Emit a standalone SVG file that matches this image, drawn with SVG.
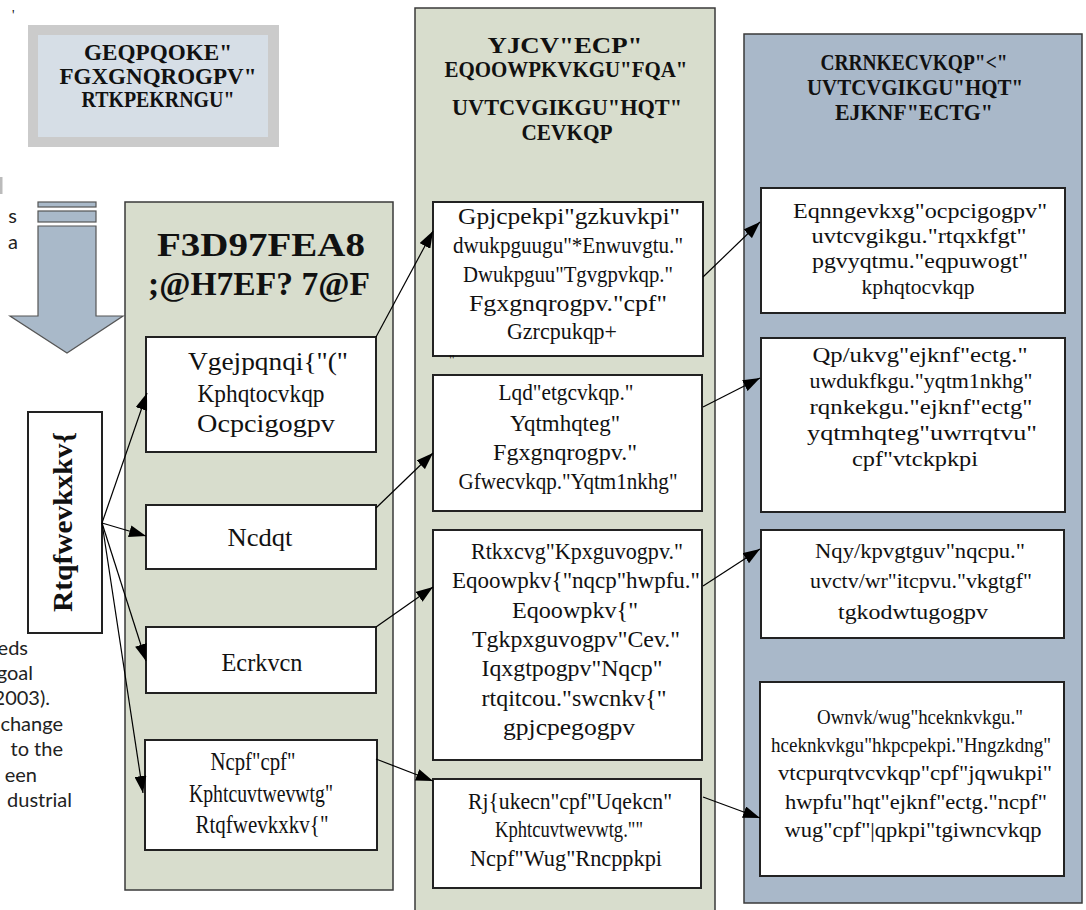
<svg xmlns="http://www.w3.org/2000/svg" width="1086" height="910" viewBox="0 0 1086 910">
<defs>
<marker id="ah" markerUnits="userSpaceOnUse" markerWidth="17" markerHeight="12" refX="17" refY="6" orient="auto">
<path d="M0,0 L17,6 L0,12 z" fill="#000"/>
</marker>
<style>
.colg{fill:#d8ddcd;stroke:#3a3a3a;stroke-width:1.5}
.colb{fill:#a9b8c9;stroke:#3a3a3a;stroke-width:1.5}
.box{fill:#fff;stroke:#222;stroke-width:2}
.t{font-family:"Liberation Serif","Times New Roman",serif;text-anchor:middle;fill:#111}
.b{font-size:24px}
.l{font-size:26px}
.r{font-size:22px}
.h{font-weight:bold;font-size:23px}
.side{font-family:Lato,"Noto Sans",sans-serif;font-size:20px;fill:#222;text-anchor:end}
.q{font-family:"Liberation Serif",serif;font-size:14px;fill:#111}
.conn line{stroke:#000;stroke-width:1.2;fill:none;marker-end:url(#ah)}
</style>
</defs>
<rect width="1086" height="910" fill="#fff"/>

<g id="side-text">
<text class="q" x="12" y="20">'</text>
<rect x="0" y="177" width="2.5" height="17" fill="#bbb"/>
<text class="side" x="17" y="223">s</text>
<text class="side" x="18" y="249">a</text>
<text class="side" x="28" y="655">eds</text>
<text class="side" x="33" y="680">goal</text>
<text class="side" x="50" y="705">2003).</text>
<text class="side" x="63" y="731">change</text>
<text class="side" x="63" y="756">to the</text>
<text class="side" x="37" y="782">een</text>
<text class="side" x="72" y="807">dustrial</text>
</g>

<g id="principles">
<rect x="28" y="25" width="251" height="122" fill="#cbcbcb"/>
<rect x="38" y="35" width="230" height="102" fill="#d6dee6"/>
<text class="t h" x="158" y="60" textLength="148" lengthAdjust="spacingAndGlyphs">GEQPQOKE"</text>
<text class="t h" x="158" y="84" textLength="197" lengthAdjust="spacingAndGlyphs">FGXGNQROGPV"</text>
<text class="t h" x="158" y="107" textLength="153" lengthAdjust="spacingAndGlyphs">RTKPEKRNGU"</text>
</g>

<g id="down-arrow">
<rect x="38" y="202" width="58" height="5" fill="#a9b9c9" stroke="#555" stroke-width="1.2"/>
<rect x="38" y="211" width="58" height="11" fill="#a9b9c9" stroke="#555" stroke-width="1.2"/>
<polygon points="38,226 96,226 96,316 123,316 67,353 10,316 38,316" fill="#a9b9c9" stroke="#555" stroke-width="1.2"/>
</g>

<g id="col-investment">
<rect class="colg" x="125" y="202" width="268" height="688"/>
<text class="t" x="261" y="256" font-weight="bold" font-size="33" textLength="208" lengthAdjust="spacingAndGlyphs">F3D97FEA8</text>
<text class="t" x="259" y="295" font-weight="bold" font-size="33" textLength="222" lengthAdjust="spacingAndGlyphs">;@H7EF? 7@F</text>
</g>

<g id="col-strategies">
<rect class="colg" x="415" y="8" width="300" height="910"/>
<text class="t h" x="565" y="53" textLength="155" lengthAdjust="spacingAndGlyphs">YJCV"ECP"</text>
<text class="t h" x="566" y="77" textLength="243" lengthAdjust="spacingAndGlyphs">EQOOWPKVKGU"FQA"</text>
<text class="t h" x="567" y="115" textLength="230" lengthAdjust="spacingAndGlyphs">UVTCVGIKGU"HQT"</text>
<text class="t h" x="567" y="140" textLength="91" lengthAdjust="spacingAndGlyphs">CEVKQP</text>
</g>

<g id="col-application">
<rect class="colb" x="744" y="34" width="338" height="869"/>
<text class="t h" x="914" y="70" textLength="187" lengthAdjust="spacingAndGlyphs">CRRNKECVKQP"&lt;"</text>
<text class="t h" x="915" y="95" textLength="216" lengthAdjust="spacingAndGlyphs">UVTCVGIKGU"HQT"</text>
<text class="t h" x="914" y="120" textLength="158" lengthAdjust="spacingAndGlyphs">EJKNF"ECTG"</text>
</g>

<g id="productivity">
<rect class="box" x="28" y="412" width="74" height="221"/>
<text class="t" transform="translate(72,522) rotate(-90)" font-weight="bold" font-size="28" textLength="180" lengthAdjust="spacingAndGlyphs">Rtqfwevkxkv{</text>
</g>

<g id="technology">
<rect class="box" x="146" y="337" width="230" height="115"/>
<text class="t l" x="268" y="370" textLength="160" lengthAdjust="spacingAndGlyphs">Vgejpqnqi{"("</text>
<text class="t l" x="261" y="402" textLength="127" lengthAdjust="spacingAndGlyphs">Kphqtocvkqp</text>
<text class="t l" x="266" y="432" textLength="138" lengthAdjust="spacingAndGlyphs">Ocpcigogpv</text>
</g>

<g id="labor">
<rect class="box" x="146" y="505" width="230" height="64"/>
<text class="t l" x="260" y="546" textLength="65" lengthAdjust="spacingAndGlyphs">Ncdqt</text>
</g>

<g id="capital">
<rect class="box" x="146" y="627" width="230" height="66"/>
<text class="t l" x="262" y="671" textLength="81" lengthAdjust="spacingAndGlyphs">Ecrkvcn</text>
</g>

<g id="land">
<rect class="box" x="145" y="740" width="232" height="110"/>
<text class="t l" x="253" y="770" textLength="85" lengthAdjust="spacingAndGlyphs">Ncpf"cpf"</text>
<text class="t l" x="261" y="802" textLength="144" lengthAdjust="spacingAndGlyphs">Kphtcuvtwevwtg"</text>
<text class="t l" x="262" y="833" textLength="133" lengthAdjust="spacingAndGlyphs">Rtqfwevkxkv{"</text>
</g>

<g id="enhancing">
<rect class="box" x="433" y="202" width="270" height="154"/>
<text class="t b" x="569" y="224" textLength="222" lengthAdjust="spacingAndGlyphs">Gpjcpekpi"gzkuvkpi"</text>
<text class="t b" x="568" y="253" textLength="230" lengthAdjust="spacingAndGlyphs">dwukpguugu"*Enwuvgtu."</text>
<text class="t b" x="568" y="282" textLength="210" lengthAdjust="spacingAndGlyphs">Dwukpguu"Tgvgpvkqp."</text>
<text class="t b" x="568" y="311" textLength="198" lengthAdjust="spacingAndGlyphs">Fgxgnqrogpv."cpf"</text>
<text class="t b" x="562" y="339" textLength="110" lengthAdjust="spacingAndGlyphs">Gzrcpukqp+</text>
<text class="q" x="449" y="365">"</text>
</g>

<g id="job-creation">
<rect class="box" x="433" y="375" width="269" height="136"/>
<text class="t b" x="566" y="400" textLength="135" lengthAdjust="spacingAndGlyphs">Lqd"etgcvkqp."</text>
<text class="t b" x="565" y="431" textLength="110" lengthAdjust="spacingAndGlyphs">Yqtmhqteg"</text>
<text class="t b" x="565" y="460" textLength="144" lengthAdjust="spacingAndGlyphs">Fgxgnqrogpv."</text>
<text class="t b" x="568" y="489" textLength="219" lengthAdjust="spacingAndGlyphs">Gfwecvkqp."Yqtm1nkhg"</text>
</g>

<g id="private-investment">
<rect class="box" x="433" y="530" width="269" height="230"/>
<text class="t b" x="577" y="559" textLength="212" lengthAdjust="spacingAndGlyphs">Rtkxcvg"Kpxguvogpv."</text>
<text class="t b" x="576" y="588" textLength="248" lengthAdjust="spacingAndGlyphs">Eqoowpkv{"nqcp"hwpfu."</text>
<text class="t b" x="575" y="618" textLength="126" lengthAdjust="spacingAndGlyphs">Eqoowpkv{"</text>
<text class="t b" x="576" y="647" textLength="208" lengthAdjust="spacingAndGlyphs">Tgkpxguvogpv"Cev."</text>
<text class="t b" x="572" y="676" textLength="181" lengthAdjust="spacingAndGlyphs">Iqxgtpogpv"Nqcp"</text>
<text class="t b" x="574" y="706" textLength="185" lengthAdjust="spacingAndGlyphs">rtqitcou."swcnkv{"</text>
<text class="t b" x="569" y="735" textLength="132" lengthAdjust="spacingAndGlyphs">gpjcpegogpv</text>
</g>

<g id="physical">
<rect class="box" x="433" y="779" width="268" height="109"/>
<text class="t b" x="570" y="809" textLength="204" lengthAdjust="spacingAndGlyphs">Rj{ukecn"cpf"Uqekcn"</text>
<text class="t b" x="569" y="837" textLength="148" lengthAdjust="spacingAndGlyphs">Kphtcuvtwevwtg.""</text>
<text class="t b" x="566" y="866" textLength="192" lengthAdjust="spacingAndGlyphs">Ncpf"Wug"Rncppkpi</text>
</g>

<g id="collective">
<rect class="box" x="761" y="188" width="304" height="125"/>
<text class="t r" x="920" y="218" textLength="254" lengthAdjust="spacingAndGlyphs">Eqnngevkxg"ocpcigogpv"</text>
<text class="t r" x="919" y="243" textLength="215" lengthAdjust="spacingAndGlyphs">uvtcvgikgu."rtqxkfgt"</text>
<text class="t r" x="920" y="268" textLength="216" lengthAdjust="spacingAndGlyphs">pgvyqtmu."eqpuwogt"</text>
<text class="t r" x="918" y="294" textLength="113" lengthAdjust="spacingAndGlyphs">kphqtocvkqp</text>
</g>

<g id="onsite">
<rect class="box" x="761" y="338" width="304" height="174"/>
<text class="t r" x="920" y="362" textLength="215" lengthAdjust="spacingAndGlyphs">Qp/ukvg"ejknf"ectg."</text>
<text class="t r" x="921" y="388" textLength="223" lengthAdjust="spacingAndGlyphs">uwdukfkgu."yqtm1nkhg"</text>
<text class="t r" x="921" y="414" textLength="223" lengthAdjust="spacingAndGlyphs">rqnkekgu."ejknf"ectg"</text>
<text class="t r" x="922" y="440" textLength="230" lengthAdjust="spacingAndGlyphs">yqtmhqteg"uwrrqtvu"</text>
<text class="t r" x="915" y="466" textLength="126" lengthAdjust="spacingAndGlyphs">cpf"vtckpkpi</text>
</g>

<g id="loans">
<rect class="box" x="761" y="530" width="303" height="108"/>
<text class="t r" x="920" y="558" textLength="210" lengthAdjust="spacingAndGlyphs">Nqy/kpvgtguv"nqcpu."</text>
<text class="t r" x="921" y="588" textLength="222" lengthAdjust="spacingAndGlyphs">uvctv/wr"itcpvu."vkgtgf"</text>
<text class="t r" x="913" y="619" textLength="150" lengthAdjust="spacingAndGlyphs">tgkodwtugogpv</text>
</g>

<g id="multiuse">
<rect class="box" x="760" y="682" width="304" height="194"/>
<text class="t r" x="920" y="724" textLength="206" lengthAdjust="spacingAndGlyphs">Ownvk/wug"hceknkvkgu."</text>
<text class="t r" x="911" y="752" font-size="21" textLength="280" lengthAdjust="spacingAndGlyphs">hceknkvkgu"hkpcpekpi."Hngzkdng"</text>
<text class="t r" x="915" y="780" textLength="274" lengthAdjust="spacingAndGlyphs">vtcpurqtvcvkqp"cpf"jqwukpi"</text>
<text class="t r" x="916" y="809" textLength="262" lengthAdjust="spacingAndGlyphs">hwpfu"hqt"ejknf"ectg."ncpf"</text>
<text class="t r" x="913" y="837" textLength="257" lengthAdjust="spacingAndGlyphs">wug"cpf"|qpkpi"tgiwncvkqp</text>
</g>

<g id="connectors" class="conn">
<line x1="102" y1="523" x2="147" y2="393"/>
<line x1="102" y1="523" x2="146" y2="536"/>
<line x1="102" y1="523" x2="146" y2="661"/>
<line x1="102" y1="523" x2="143" y2="793"/>
<line x1="376" y1="337" x2="433" y2="231"/>
<line x1="376" y1="508" x2="433" y2="453"/>
<line x1="376" y1="627" x2="433" y2="587"/>
<line x1="376" y1="759" x2="433" y2="781"/>
<line x1="703" y1="277" x2="760" y2="222"/>
<line x1="703" y1="407" x2="760" y2="378"/>
<line x1="703" y1="586" x2="760" y2="549"/>
<line x1="703" y1="797" x2="760" y2="818"/>
</g>
</svg>
